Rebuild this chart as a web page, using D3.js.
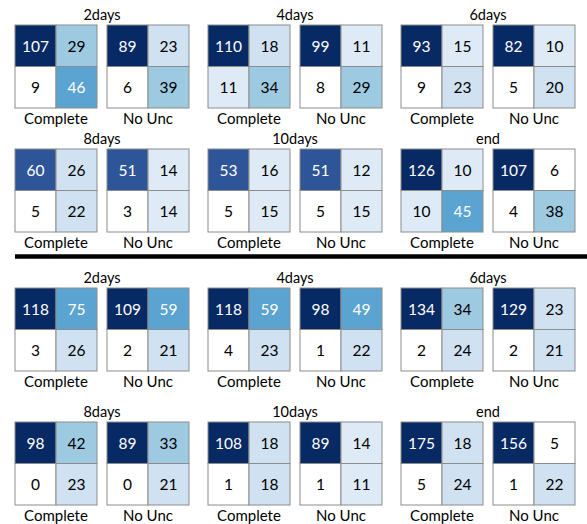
<!DOCTYPE html>
<html lang="en">
<head>
  <meta charset="UTF-8"/>
  <title>Confusion matrices</title>
  <script src="https://d3js.org/d3.v7.min.js"></script>
  <style>
    body { margin: 0; background: #fff; font-family: Lato, sans-serif; }
    svg { display: block; }
    text { fill: #000; }
    text.title { font-size: 14.5px; }
    text.label { font-size: 15px; }
    text.value { font-size: 15.5px; }
    rect.cell { stroke: #8c8c8c; stroke-width: 1; }
  </style>
</head>
<body>
<svg width="587" height="524"></svg>
<script>
// data: each matrix is [top-left, top-right, bottom-left, bottom-right]
const horizons = ["2days", "4days", "6days", "8days", "10days", "end"];
const models = ["Complete", "No Unc"];

const topComplete = [[107, 29, 9, 46], [110, 18, 11, 34], [93, 15, 9, 23], [60, 26, 5, 22], [53, 16, 5, 15], [126, 10, 10, 45]];
const topNoUnc = [[89, 23, 6, 39], [99, 11, 8, 29], [82, 10, 5, 20], [51, 14, 3, 14], [51, 12, 5, 15], [107, 6, 4, 38]];
const bottomComplete = [[118, 75, 3, 26], [118, 59, 4, 23], [134, 34, 2, 24], [98, 42, 0, 23], [108, 18, 1, 18], [175, 18, 5, 24]];
const bottomNoUnc = [[109, 59, 2, 21], [98, 49, 1, 22], [129, 23, 2, 21], [89, 33, 0, 21], [89, 14, 1, 11], [156, 5, 1, 22]];

const blues = ["#ffffff", "#deebf7", "#d0e1f2", "#9ecae1", "#5ba3d1", "#2e5597", "#082a64"];
// top-left (hits) cell and the other cells use slightly different bins
const hitColor = d3.scaleThreshold().domain([10, 18, 29, 45, 50, 80]).range(blues);
const otherColor = d3.scaleThreshold().domain([10, 18, 29, 45, 80]).range(blues.slice(0, 5).concat([blues[6]]));
const darkFills = new Set(blues.slice(4));

const svg = d3.select("svg");

const size = 82;
const colX = d3.scaleLinear().domain([0, 2]).range([15, 401]);
const modelX = d3.scaleOrdinal().domain(models).range([0, 92]);
const rowTop = [25, 149, 288, 422];
const cellX = d3.scaleBand().domain([0, 1]).range([0, size]);
const cellY = d3.scaleBand().domain([0, 1]).range([0, size + 1]);

const halves = [
  {rows: [0, 1], sets: [topComplete, topNoUnc]},
  {rows: [2, 3], sets: [bottomComplete, bottomNoUnc]}
];

halves.forEach(h => {
  horizons.forEach((name, i) => {
    const r = h.rows[Math.floor(i / 3)];
    const x0 = colX(i % 3);
    const y0 = rowTop[r];

    const g = svg.append("g").attr("transform", `translate(${x0},${y0})`);

    g.append("text").attr("class", "title")
      .attr("x", (size + 92) / 2).attr("y", -11)
      .attr("text-anchor", "middle").attr("dominant-baseline", "central")
      .text(name);

    models.forEach((m, k) => {
      const vals = h.sets[k][i];
      const mg = g.append("g").attr("transform", `translate(${modelX(m)},0)`);
      const cells = mg.selectAll("g.c").data(vals).join("g").attr("class", "c");
      cells.append("rect").attr("class", "cell")
        .attr("x", (d, j) => cellX(j % 2))
        .attr("y", (d, j) => cellY(Math.floor(j / 2)))
        .attr("width", cellX.bandwidth())
        .attr("height", cellY.bandwidth())
        .attr("fill", (d, j) => j === 0 ? hitColor(d) : otherColor(d));
      cells.append("text").attr("class", "value")
        .attr("x", (d, j) => cellX(j % 2) + cellX.bandwidth() / 2)
        .attr("y", (d, j) => cellY(Math.floor(j / 2)) + cellY.bandwidth() / 2)
        .attr("text-anchor", "middle").attr("dominant-baseline", "central")
        .style("fill", (d, j) => darkFills.has(j === 0 ? hitColor(d) : otherColor(d)) ? "#fff" : "#000")
        .text(d => d);

      mg.append("text").attr("class", "label")
        .attr("x", size / 2).attr("y", size + 11)
        .attr("text-anchor", "middle").attr("dominant-baseline", "central")
        .text(m);
    });
  });
});

// separator between the two halves
svg.append("line")
  .attr("x1", 15).attr("x2", 587)
  .attr("y1", 256.5).attr("y2", 256.5)
  .attr("stroke", "#000").attr("stroke-width", 4.5);
</script>
</body>
</html>
